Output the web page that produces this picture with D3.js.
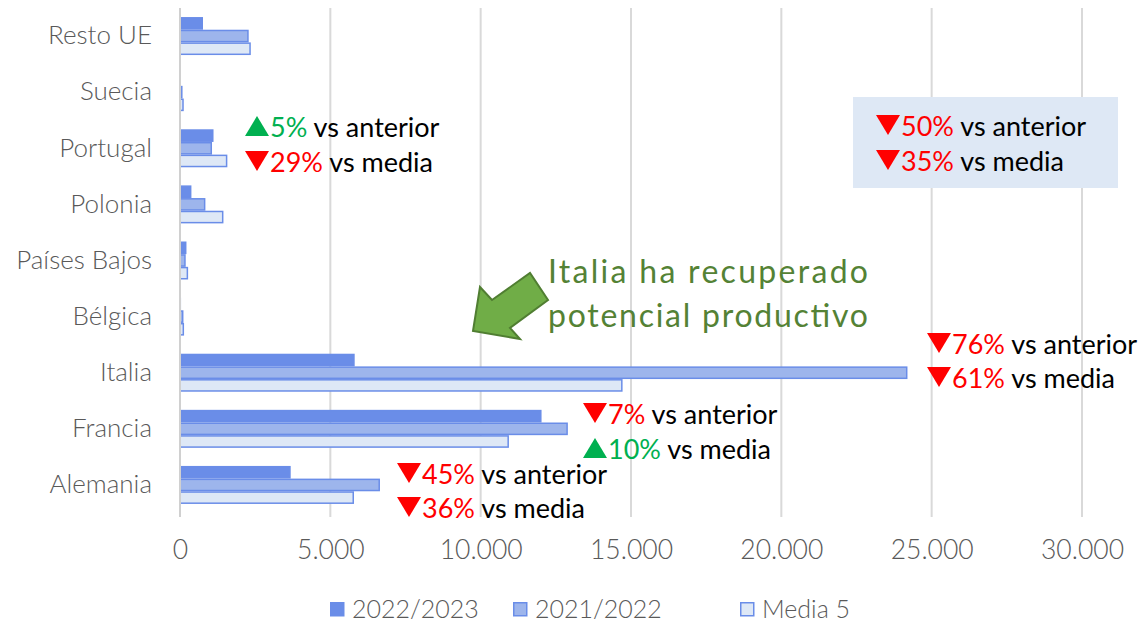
<!DOCTYPE html>
<meta charset="utf-8">
<style>
body { margin: 0; background: #fff; }
text { font-family: Lato, "Open Sans", sans-serif; }
</style>
<body>
<svg id="chart" width="1142" height="623"></svg>
<script src="https://cdn.jsdelivr.net/npm/d3@7"></script>
<script>
var categories = ["Resto UE", "Suecia", "Portugal", "Polonia", "Países Bajos", "Bélgica", "Italia", "Francia", "Alemania"];
var series = ["2022/2023", "2021/2022", "Media 5"];
var v2223 = [740, 5, 1090, 355, 190, 10, 5785, 12000, 3657];
var v2122 = [2260, 60, 1040, 820, 165, 90, 24170, 12875, 6626];
var vMedia = [2330, 100, 1550, 1420, 245, 110, 14695, 10915, 5762];
var ticks = [0, 5000, 10000, 15000, 20000, 25000, 30000];

var fills = ["#6A8DE8", "#9DB5EC", "#DEE8F6"];
var border = "#6A8DE8";

var svg = d3.select("#chart");

var x = d3.scaleLinear().domain([0, 30000]).range([180, 1082]);
var y = d3.scaleBand().domain(categories).range([8, 513]);
var inner = d3.scaleBand().domain(series).range([-19, 19]);

var fmt = d3.formatLocale({decimal: ",", thousands: ".", grouping: [3], currency: ["", "€"]}).format(",d");

// gridlines
svg.append("g")
  .selectAll("line")
  .data(ticks.slice(1))
  .enter().append("line")
  .attr("x1", function(d) { return x(d); })
  .attr("x2", function(d) { return x(d); })
  .attr("y1", 8).attr("y2", 517)
  .attr("stroke", "#D9D9D9").attr("stroke-width", 2);

// x tick labels
var xAxis = svg.append("g")
  .attr("transform", "translate(0,517)")
  .call(d3.axisBottom(x).tickValues(ticks).tickFormat(fmt).tickSize(0).tickPadding(23));
xAxis.select(".domain").remove();
xAxis.selectAll("text").attr("font-size", "26.5px").attr("fill", "#595959")
  .style("font-family", "Lato, sans-serif").style("font-weight", 300);

// bars
var rows = categories.map(function(c, i) {
  return {cat: c, vals: [v2223[i], v2122[i], vMedia[i]]};
});

var groups = svg.append("g").selectAll("g")
  .data(rows)
  .enter().append("g")
  .attr("transform", function(d) { return "translate(0," + (y(d.cat) + y.bandwidth() / 2) + ")"; });

groups.selectAll("rect")
  .data(function(d) { return d.vals.map(function(v, j) { return {s: series[j], v: v, j: j}; }); })
  .enter().append("rect")
  .attr("x", x(0))
  .attr("y", function(d) { return inner(d.s) + 0.75; })
  .attr("width", function(d) { return Math.max(0, x(d.v) - x(0)); })
  .attr("height", inner.bandwidth() - 1.5)
  .attr("fill", function(d) { return fills[d.j]; })
  .attr("stroke", border)
  .attr("stroke-width", 1.5);

// zero axis line
svg.append("line")
  .attr("x1", x(0)).attr("x2", x(0))
  .attr("y1", 8).attr("y2", 517)
  .attr("stroke", "#D0D0D0").attr("stroke-width", 2);

// y axis labels
var yAxis = svg.append("g")
  .attr("transform", "translate(" + x(0) + ",0)")
  .call(d3.axisLeft(y).tickSize(0).tickPadding(28));
yAxis.select(".domain").remove();
yAxis.selectAll("text").attr("font-size", "26px").attr("fill", "#595959")
  .style("font-family", "Lato, sans-serif").style("font-weight", 300);

// legend
var legendX = [330, 513, 740];
var legend = svg.append("g").selectAll("g")
  .data(series)
  .enter().append("g")
  .attr("transform", function(d, i) { return "translate(" + legendX[i] + ",602)"; });
legend.append("rect")
  .attr("x", 0.75).attr("y", 0.75).attr("width", 13).attr("height", 13)
  .attr("fill", function(d, i) { return fills[i]; })
  .attr("stroke", border).attr("stroke-width", 1.5);
legend.append("text")
  .attr("x", 22).attr("y", 16)
  .attr("font-size", "25px").attr("fill", "#595959").style("font-weight", 300)
  .text(function(d) { return d; });

// annotations
function note(g, px, baseline, up, pct, rest) {
  var col = up ? "#00B050" : "#FF0000";
  var tri = up
    ? [[px, baseline - 1], [px + 24, baseline - 1], [px + 12, baseline - 21]]
    : [[px, baseline - 21], [px + 24, baseline - 21], [px + 12, baseline - 1]];
  g.append("path").attr("d", "M" + tri.join("L") + "Z").attr("fill", col);
  var t = g.append("text").attr("x", px + 25).attr("y", baseline).attr("font-size", "27px");
  t.append("tspan").attr("fill", col).text(pct);
  t.append("tspan").attr("fill", "#000").text(" " + rest);
}

var ann = svg.append("g");
ann.append("rect").attr("x", 853).attr("y", 97).attr("width", 265).attr("height", 91).attr("fill", "#DEE8F5");
note(ann, 876, 136, false, "50%", "vs anterior");
note(ann, 876, 171, false, "35%", "vs media");
note(ann, 245, 137, true, "5%", "vs anterior");
note(ann, 245, 172, false, "29%", "vs media");
note(ann, 927, 354, false, "76%", "vs anterior");
note(ann, 927, 388, false, "61%", "vs media");
note(ann, 583, 424, false, "7%", "vs anterior");
note(ann, 583, 459, true, "10%", "vs media");
note(ann, 397, 484, false, "45%", "vs anterior");
note(ann, 397, 518, false, "36%", "vs media");

// arrow callout
var arrowPts = [[473, 331], [480, 287], [492, 300], [530, 273], [548, 300], [510, 328], [520, 339]];
ann.append("path")
  .attr("d", "M" + arrowPts.join("L") + "Z")
  .attr("fill", "#70AD47").attr("stroke", "#507E32").attr("stroke-width", 2).attr("stroke-linejoin", "miter");

var hand = ann.append("text").attr("fill", "#548235").attr("font-size", "32px")
  .style("font-family", "'Comic Sans MS', 'Segoe Print', Lato, sans-serif");
hand.append("tspan").attr("x", 548).attr("y", 283).attr("textLength", 320).attr("lengthAdjust", "spacing").text("Italia ha recuperado");
hand.append("tspan").attr("x", 548).attr("y", 327).attr("textLength", 320).attr("lengthAdjust", "spacing").text("potencial productivo");
</script>
</body>
